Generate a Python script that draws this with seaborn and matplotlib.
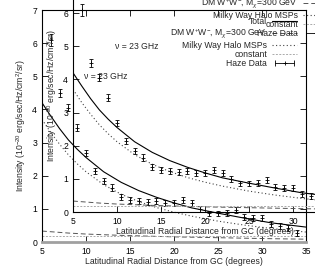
import matplotlib
matplotlib.use("Agg")
import matplotlib.pyplot as plt
import seaborn as sns
from matplotlib.lines import Line2D
from matplotlib.legend_handler import HandlerLine2D

# WMAP haze data at 23 GHz
lat_deg = [6, 7, 8, 9, 10, 11, 12, 13, 14, 15, 16, 17, 18, 19, 20,
           21, 22, 23, 24, 25, 26, 27, 28, 29, 30, 31, 32, 33, 34]
haze = [6.1, 4.5, 4.05, 3.45, 2.68, 2.14, 1.84, 1.64, 1.37, 1.26, 1.23, 1.22, 1.24, 1.19, 1.19,
        1.28, 1.18, 1.01, 0.86, 0.86, 0.88, 0.97, 0.76, 0.73, 0.72, 0.53, 0.48, 0.42, 0.27]
haze_err = [0.18, 0.12, 0.11, 0.11, 0.1, 0.1, 0.1, 0.1, 0.09, 0.09, 0.09, 0.09, 0.09, 0.09, 0.09,
            0.09, 0.09, 0.09, 0.09, 0.09, 0.09, 0.09, 0.09, 0.09, 0.09, 0.09, 0.09, 0.09, 0.09]

# model curves
curve_x = [5, 6, 7, 8, 9, 10, 12, 14, 16, 18, 20, 22, 25, 28, 31, 35]
total = [4.2, 3.8, 3.42, 3.08, 2.8, 2.55, 2.12, 1.8, 1.55, 1.35, 1.18, 1.03, 0.87, 0.72, 0.58, 0.45]
msp = [3.7, 3.3, 2.95, 2.63, 2.36, 2.12, 1.73, 1.44, 1.22, 1.04, 0.9, 0.78, 0.63, 0.51, 0.41, 0.3]
dm = [0.33, 0.31, 0.29, 0.27, 0.255, 0.24, 0.22, 0.2, 0.185, 0.17, 0.155, 0.145, 0.13, 0.115, 0.1, 0.085]
const_level = 0.17

labels = ["Total", r"DM W$^{+}$W$^{-}$, M$_{\chi}$=300 GeV", "Milky Way Halo MSPs",
          "constant", "Haze Data"]

sns.set_style("ticks")
plt.rcParams["font.family"] = ["Liberation Sans", "DejaVu Sans"]
plt.rcParams["mathtext.fontset"] = "custom"
plt.rcParams["mathtext.rm"] = "Liberation Sans"
plt.rcParams["mathtext.it"] = "Liberation Sans:italic"
plt.rcParams["mathtext.bf"] = "Liberation Sans:bold"

FS = 6.2


def draw_panel(ax):
    sns.lineplot(x=curve_x, y=total, ax=ax, color="black", lw=0.8)
    sns.lineplot(x=curve_x, y=dm, ax=ax, color="#555555", lw=0.7, linestyle=(0, (5, 3)))
    sns.lineplot(x=curve_x, y=msp, ax=ax, color="#444444", lw=0.8, linestyle=(0, (1, 2.2)))
    ax.axhline(const_level, color="#aaaaaa", lw=0.7, linestyle=(0, (2, 1.5)))
    ax.errorbar(lat_deg, haze, yerr=haze_err, fmt="+", color="black", ms=3, mew=0.6,
                elinewidth=0.6, capsize=1.6, capthick=0.6)

    ax.set_xlim(5, 35)
    ax.set_ylim(0, 7)
    ax.set_xticks(range(5, 36, 5))
    ax.set_yticks(range(0, 8))
    ax.tick_params(direction="in", top=True, right=True, length=4, width=0.6,
                   labelsize=FS, pad=3.5, colors="black")
    for s in ax.spines.values():
        s.set_linewidth(0.8)
        s.set_color("black")
    ax.patch.set_visible(False)

    ax.set_xlabel("Latitudinal Radial Distance from GC (degrees)", fontsize=FS)
    ax.set_ylabel(r"Intensity (10$^{-20}$ erg/sec/Hz/cm$^{2}$/sr)", fontsize=FS)
    ax.xaxis.set_label_coords(0.5, -0.065)
    ax.yaxis.set_label_coords(-0.054, 0.5)

    ax.text(9.8, 5.0, "ν = 23 GHz", fontsize=FS, va="center", ha="left")

    h_total = Line2D([], [], color="black", lw=0.8)
    h_dm = Line2D([], [], color="#555555", lw=0.7, linestyle=(0, (5, 3)))
    h_msp = Line2D([], [], color="#444444", lw=0.8, linestyle=(0, (1, 2.2)))
    h_const = Line2D([], [], color="#aaaaaa", lw=0.7, linestyle=(0, (2, 1.5)))
    h_err = Line2D([], [], color="black", lw=0.6, marker="|", ms=4, mew=0.6)
    h_pt = Line2D([], [], ls="none", color="black", marker="+", ms=3, mew=0.6)
    ax.legend([h_total, h_dm, h_msp, h_const, (h_err, h_pt)], labels,
              loc="upper right", bbox_to_anchor=(0.966, 0.97), frameon=False,
              markerfirst=False, fontsize=FS, handlelength=2.9, handletextpad=0.6,
              labelspacing=0.05, borderpad=0, borderaxespad=0,
              handler_map={h_err: HandlerLine2D(numpoints=2),
                           h_pt: HandlerLine2D(numpoints=1)})


fig = plt.figure(figsize=(3.15, 2.7), dpi=100)
W, H = 315, 270
# the figure shows two copies of the same plot, the second one shifted up-right
outer = fig.add_axes([42 / W, (H - 242) / H, 264 / W, 232 / H])
inner = fig.add_axes([73 / W, (H - 212) / H, 264 / W, 232 / H])

draw_panel(outer)
draw_panel(inner)
outer.spines["bottom"].set_color("#a0a0a0")
outer.spines["bottom"].set_linewidth(2)

fig.savefig("out.png", dpi=100)
